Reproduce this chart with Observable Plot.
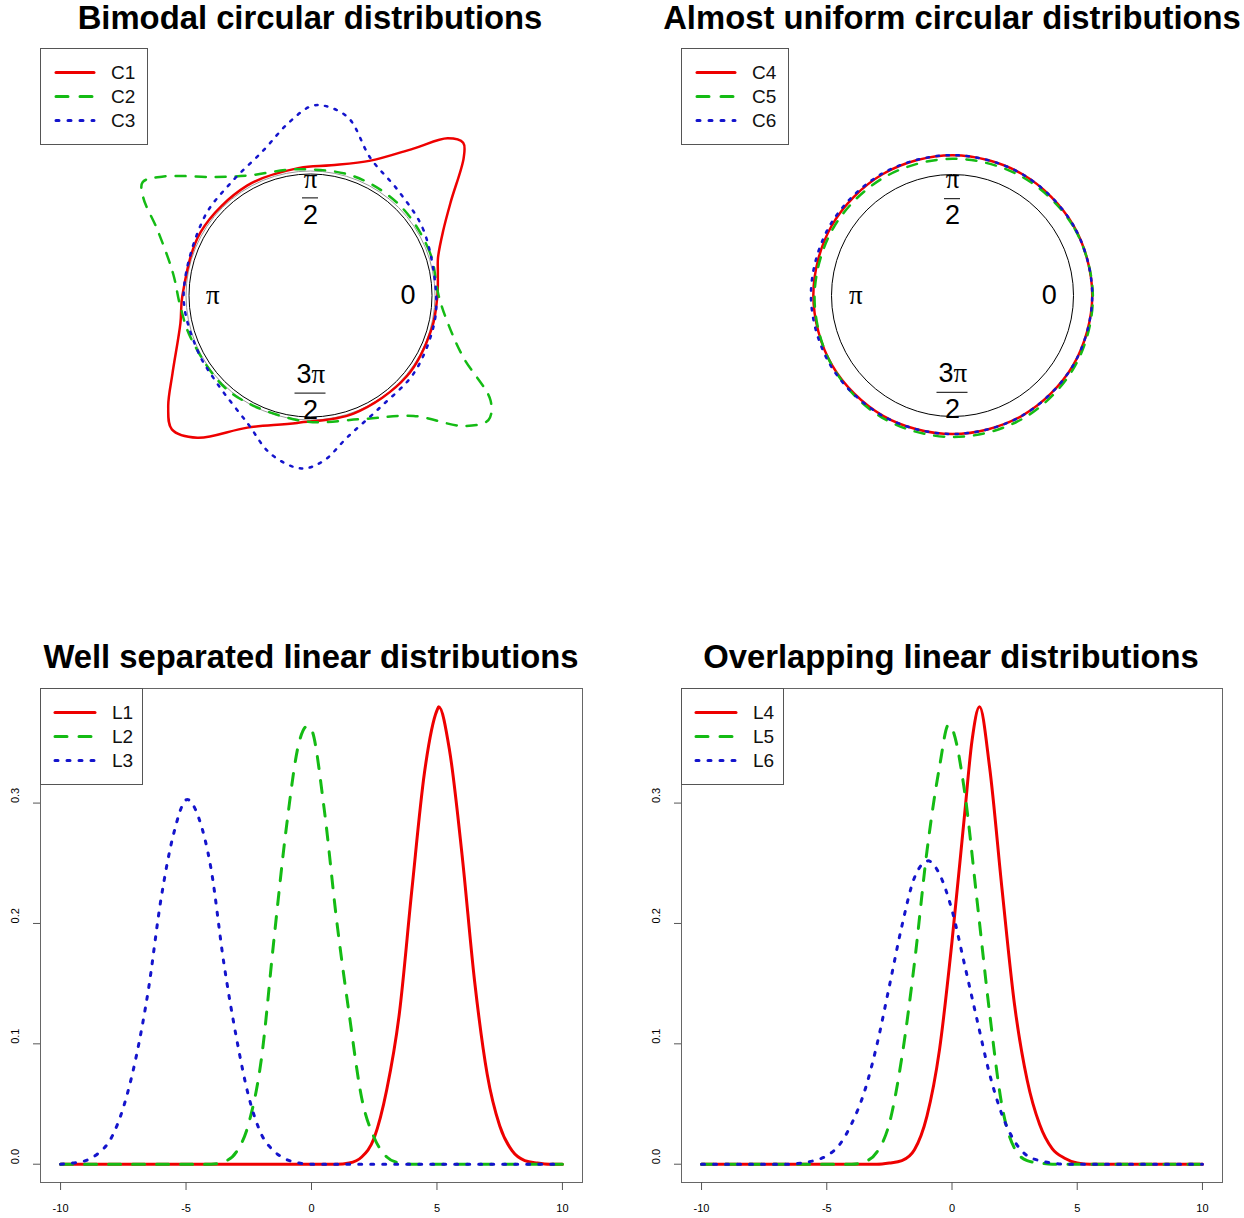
<!DOCTYPE html>
<html><head><meta charset="utf-8">
<script src="https://cdn.jsdelivr.net/npm/d3@7"></script>
<script src="https://cdn.jsdelivr.net/npm/@observablehq/plot@0.6"></script>
<style>
body{margin:0;background:#fff;}
#root{position:relative;width:1244px;height:1218px;overflow:hidden;background:#fff;font-family:"Liberation Sans",Arial,sans-serif;}
.panel{position:absolute;}
.title{position:absolute;width:700px;margin-left:-350px;text-align:center;font-weight:bold;font-size:32.8px;line-height:1;white-space:nowrap;color:#000;}
.legend{position:absolute;}
</style></head><body><div id="root"></div>
<script>
// ---------- data ----------
const circularTitles = ["Bimodal circular distributions", "Almost uniform circular distributions"];
const linearTitles = ["Well separated linear distributions", "Overlapping linear distributions"];
const circNamesA = ["C1", "C2", "C3"];
const circNamesB = ["C4", "C5", "C6"];
const linNamesA = ["L1", "L2", "L3"];
const linNamesB = ["L4", "L5", "L6"];
const angleLabels = ["0", "π/2", "π", "3π/2"];
const angleLabelAngles = [0, 90, 180, 270];
const xTicks = [-10, -5, 0, 5, 10];
const yTicks = [0, 0.1, 0.2, 0.3];

// circular densities: [angle in degrees, radius relative to unit circle]
const C1 = [[0,1.04],[10,1.06],[16.5,1.09],[26,1.21],[34,1.39],[42,1.69],[45,1.77],[48.9,1.71],[55,1.47],[66,1.21],[81,1.08],[95,1.05],[120,1.04],[150,1.04],[180,1.05],[192,1.09],[209.5,1.30],[218,1.48],[224,1.58],[231.5,1.49],[244.5,1.20],[264,1.05],[290,1.03],[320,1.03],[345,1.03]];
const C2 = [[0,1.05],[20,1.04],[45,1.04],[70,1.04],[96,1.04],[117.7,1.11],[129,1.25],[141,1.55],[146,1.66],[149.6,1.59],[157,1.36],[171,1.14],[185,1.07],[200,1.04],[230,1.03],[266,1.03],[293,1.10],[310.6,1.30],[319.6,1.65],[325,1.78],[329.7,1.71],[338,1.35],[348.5,1.15]];
const C3 = [[0,1.03],[30,1.07],[50,1.12],[66.5,1.23],[78,1.49],[86,1.56],[90,1.55],[97.6,1.42],[108,1.25],[125.5,1.13],[144,1.08],[180,1.04],[206,1.03],[223,1.05],[244,1.17],[256,1.34],[267,1.42],[274.5,1.36],[284.6,1.20],[302,1.08],[323,1.06],[345,1.04]];
const C4 = [[0,1.155],[30,1.155],[60,1.157],[90,1.16],[120,1.157],[150,1.153],[180,1.15],[210,1.15],[240,1.148],[270,1.145],[300,1.148],[330,1.152]];
const C5 = [[0,1.16],[30,1.15],[60,1.137],[90,1.13],[120,1.128],[150,1.132],[180,1.14],[210,1.152],[240,1.165],[270,1.17],[300,1.172],[330,1.168]];
const C6 = [[0,1.155],[30,1.155],[60,1.157],[90,1.16],[120,1.163],[150,1.167],[180,1.17],[210,1.162],[240,1.15],[270,1.145],[300,1.148],[330,1.152]];

// linear densities: [x, density]
const L1 = [[-10,0],[1,0],[1.5,0.001],[2,0.006],[2.5,0.022],[3,0.062],[3.5,0.125],[4,0.228],[4.5,0.325],[5,0.377],[5.07,0.380],[5.5,0.344],[6,0.257],[6.5,0.152],[7,0.075],[7.5,0.032],[8,0.011],[8.5,0.003],[9,0.001],[9.5,0],[10,0]];
const L2 = [[-10,0],[-4,0],[-3.5,0.002],[-3,0.010],[-2.5,0.034],[-2,0.087],[-1.5,0.186],[-1,0.28],[-0.5,0.35],[-0.17,0.364],[0,0.361],[0.5,0.296],[1,0.203],[1.5,0.125],[2,0.055],[2.5,0.022],[3,0.006],[3.5,0.001],[4,0],[10,0]];
const L3 = [[-10,0],[-9.5,0.001],[-9,0.003],[-8.5,0.009],[-8,0.021],[-7.5,0.047],[-7,0.088],[-6.5,0.145],[-6,0.22],[-5.5,0.274],[-4.95,0.303],[-4.5,0.288],[-4,0.245],[-3.5,0.168],[-3,0.106],[-2.5,0.056],[-2,0.025],[-1.5,0.011],[-1,0.004],[-0.5,0.001],[0,0],[10,0]];
const L4 = [[-10,0],[-3,0],[-2.5,0.001],[-2,0.003],[-1.5,0.012],[-1,0.04],[-0.5,0.095],[0,0.185],[0.5,0.29],[0.8,0.352],[1.1,0.380],[1.5,0.33],[2,0.228],[2.5,0.132],[3,0.07],[3.5,0.033],[4,0.013],[4.5,0.005],[5,0.001],[5.5,0],[10,0]];
const L5 = [[-10,0],[-4,0],[-3.5,0.002],[-3,0.010],[-2.5,0.034],[-2,0.089],[-1.5,0.167],[-1,0.26],[-0.5,0.33],[-0.14,0.365],[0,0.362],[0.5,0.31],[1,0.219],[1.5,0.126],[2,0.048],[2.5,0.013],[3,0.003],[3.5,0.001],[4,0],[10,0]];
const L6 = [[-10,0],[-6.5,0],[-6,0.001],[-5.5,0.003],[-5,0.007],[-4.5,0.016],[-4,0.034],[-3.5,0.06],[-3,0.099],[-2.5,0.148],[-2,0.198],[-1.5,0.238],[-0.95,0.252],[-0.5,0.241],[0,0.211],[0.5,0.166],[1,0.12],[1.5,0.075],[2,0.041],[2.5,0.019],[3,0.007],[3.5,0.003],[4,0.001],[4.5,0],[10,0]];

// ---------- style ----------
const W = 622, H = 609;
const colors = ["#ee0000", "#14bb14", "#1414cc"];
const SANS = "Liberation Sans, Arial, sans-serif";
const SERIF = "Liberation Serif, Times New Roman, serif";
const root = document.getElementById("root");

function place(node, left, top) {
  node.style.position = "absolute";
  node.style.left = left + "px";
  node.style.top = top + "px";
  root.appendChild(node);
}

function addTitle(text, cx, top) {
  const d = document.createElement("div");
  d.className = "title";
  d.textContent = text;
  d.style.left = cx + "px";
  d.style.top = top + "px";
  root.appendChild(d);
}

function addLegend(names, left, top, w, lx0, lx1, tx, lw, dash) {
  const svg = d3.create("svg").attr("width", w + 1).attr("height", 97)
    .style("position", "absolute").style("left", left + "px").style("top", top + "px");
  svg.append("rect").attr("x", 0.5).attr("y", 0.5).attr("width", w).attr("height", 96)
    .attr("fill", "#fff").attr("stroke", "#555").attr("stroke-width", 1);
  names.forEach((n, i) => {
    const y = 24.5 + 24 * i;
    svg.append("line").attr("x1", lx0).attr("x2", lx1).attr("y1", y).attr("y2", y)
      .attr("stroke", colors[i]).attr("stroke-width", lw).attr("stroke-linecap", "round")
      .attr("stroke-dasharray", dash[i]);
    svg.append("text").attr("x", tx).attr("y", y).attr("dy", "0.36em")
      .attr("font-family", SANS).attr("font-size", 19).attr("fill", "#111").text(n);
  });
  root.appendChild(svg.node());
}

function polarXY(s) {
  return s.map(([a, r]) => ({x: r * Math.cos(a * Math.PI / 180), y: r * Math.sin(a * Math.PI / 180)}));
}

function circularPanel(series, cx, cy, R, rings) {
  const dash = [null, "10 10", "2.5 7.5"];
  const marks = [];
  rings.forEach(rg => marks.push(Plot.dot([0], {x: () => 0, y: () => 0, r: rg.r, stroke: rg.color, strokeWidth: 1, fill: "none"})));
  const labR = 0.8;
  angleLabels.forEach((lab, i) => {
    const a = angleLabelAngles[i] * Math.PI / 180;
    const p = [{x: labR * Math.cos(a), y: labR * Math.sin(a)}];
    if (lab.includes("/")) {
      const [num, den] = lab.split("/");
      const coef = num.replace("π", "");
      if (coef) {
        marks.push(Plot.text(p, {x: "x", y: "y", text: () => coef, dy: -19, dx: 1, textAnchor: "end", fontSize: 27, fontFamily: SANS, fill: "#000"}));
        marks.push(Plot.text(p, {x: "x", y: "y", text: () => "π", dy: -19, dx: 1, textAnchor: "start", fontSize: 27, fontFamily: SERIF, fill: "#000"}));
      } else {
        marks.push(Plot.text(p, {x: "x", y: "y", text: () => "π", dy: -19, fontSize: 27, fontFamily: SERIF, fill: "#000"}));
      }
      marks.push(Plot.text(p, {x: "x", y: "y", text: () => den, dy: 17, fontSize: 27, fontFamily: SANS, fill: "#000"}));
      const hw = (num.length * 15 + 1) / 2 / R;
      marks.push(Plot.ruleY(p, {y: "y", x1: d => d.x - hw, x2: d => d.x + hw, stroke: "#000", strokeWidth: 1}));
    } else {
      marks.push(Plot.text(p, {x: "x", y: "y", text: () => lab, fontSize: 27, fontFamily: lab.includes("π") ? SERIF : SANS, fill: "#000"}));
    }
  });
  series.forEach((s, i) => marks.push(Plot.line(polarXY(s), {
    x: "x", y: "y", curve: "catmull-rom-closed", stroke: colors[i], strokeWidth: 2.5,
    strokeDasharray: dash[i], strokeLinecap: "round", strokeLinejoin: "round"
  })));
  return Plot.plot({
    width: W, height: H, margin: 0,
    x: {domain: [-cx / R, (W - cx) / R], axis: null},
    y: {domain: [-(H - cy) / R, cy / R], axis: null},
    style: {background: "transparent", fontFamily: SANS},
    marks
  });
}

function linearPanel(series, ml, mr) {
  const dash = [null, "12 12", "3 9"];
  const marks = [
    Plot.frame({stroke: "#666", strokeWidth: 1}),
    Plot.axisX({ticks: xTicks, tickSize: 8, tickPadding: 14, fontSize: 11, tickFormat: d => String(d), label: null, stroke: "#555", fill: "#000"}),
    Plot.axisY({ticks: yTicks, tickSize: 7, tickFormat: () => "", label: null, stroke: "#555"}),
    Plot.text(yTicks, {y: d => d, text: d => d.toFixed(1), frameAnchor: "left", dx: -25, rotate: -90, fontSize: 11, fill: "#000"})
  ];
  series.forEach((s, i) => marks.push(Plot.line(s, {
    x: d => d[0], y: d => d[1], curve: "monotone-x", stroke: colors[i], strokeWidth: 3,
    strokeDasharray: dash[i], strokeLinecap: "round", strokeLinejoin: "round"
  })));
  return Plot.plot({
    width: W, height: H, marginLeft: ml, marginRight: mr, marginTop: 79, marginBottom: 36,
    x: {domain: [-10.8, 10.8], label: null},
    y: {domain: [-0.0152, 0.3952], label: null},
    style: {background: "transparent", fontFamily: SANS},
    marks
  });
}

// ---------- build ----------
place(circularPanel([C1, C2, C3], 310, 295, 122, [{r: 121.5, color: "#000"}, {r: 124.5, color: "#999"}]), 0, 0);
place(circularPanel([C4, C5, C6], 330, 295, 121, [{r: 121, color: "#000"}]), 622, 0);
place(linearPanel([L1, L2, L3], 40, 40), 0, 609);
place(linearPanel([L4, L5, L6], 59, 22), 622, 609);

addTitle(circularTitles[0], 310, 2);
addTitle(circularTitles[1], 952, 2);
addTitle(linearTitles[0], 311, 641);
addTitle(linearTitles[1], 951, 641);

addLegend(circNamesA, 40, 48, 107, 16, 54, 71, 3, [null, "12 12", "3 9"]);
addLegend(circNamesB, 681, 48, 107, 16, 54, 71, 3, [null, "12 12", "3 9"]);
addLegend(linNamesA, 40, 688, 102, 15, 55, 72, 3, [null, "12 12", "3 9"]);
addLegend(linNamesB, 681, 688, 102, 15, 55, 72, 3, [null, "12 12", "3 9"]);
</script></body></html>
